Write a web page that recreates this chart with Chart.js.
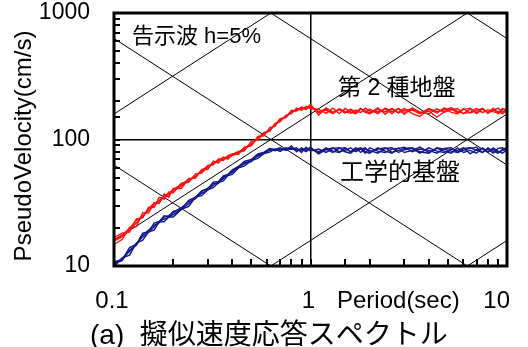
<!DOCTYPE html>
<html>
<head>
<meta charset="utf-8">
<script src="https://cdn.jsdelivr.net/npm/chart.js@4.4.1/dist/chart.umd.min.js"></script>
<style>
  html, body { margin: 0; padding: 0; background: #fff; }
</style>
</head>
<body>
<canvas id="c" width="528" height="347"></canvas>
<script>
// Natural periods (sec)
const periods = [
  0.10,0.11,0.12,0.13,0.14,0.15,0.16,0.17,0.18,0.19,
  0.20,0.22,0.24,0.26,0.28,0.30,0.32,0.34,0.36,0.38,
  0.40,0.43,0.46,0.50,0.54,0.58,0.62,0.66,0.70,0.75,
  0.80,0.85,0.90,0.95,1.00,1.1,1.2,1.3,1.4,1.5,
  1.6,1.7,1.8,1.9,2.0,2.2,2.4,2.6,2.8,3.0,
  3.3,3.6,4.0,4.4,4.8,5.2,5.6,6.0,6.5,7.0,
  7.5,8.0,8.5,9.0,9.5,10.0
];

// Pseudo velocity (cm/s), type-2 ground surface
const soil1 = [
  15.8,17.0,19.2,22.0,25.0,27.5,30.0,33.0,35.0,36.5,
  39.0,43.0,47.0,51.5,56.0,60.0,65.0,67.5,70.0,72.0,
  74.5,78.0,83.0,93.0,102,110,120,130,142,152,
  165,172,175,178,182,166,174,163,172,162,
  174,165,176,164,160,173,165,176,162,170,
  175,162,168,150,166,174,163,175,162,170,
  176,161,172,166,160,170
];
const soil2 = [
  16.8,18.2,18.5,23.6,24.0,29.2,29.0,35.0,33.8,38.5,
  37.8,45.2,45.8,53.5,54.2,62.5,63.0,70.0,68.2,74.5,
  77.0,76.0,87.0,89.0,106,107,124,127,146,149,
  170,168,181,172,190,156,178,164,174,163,
  172,161,176,165,174,160,177,166,175,158,
  178,165,160,175,164,172,176,160,174,163,
  176,162,170,177,164,173
];
const soil3 = [
  14.8,16.2,20.2,20.5,26.4,26.2,31.8,31.2,37.0,35.0,
  41.0,41.0,49.2,49.5,58.0,58.0,67.5,65.0,72.5,70.0,
  76.0,80.5,81.0,97.0,99,114,116,134,138,156,
  160,177,170,183,175,174,161,177,160,176,
  165,160,174,168,162,178,158,174,163,176,
  160,152,174,162,178,164,160,173,177,160,
  175,164,177,160,172,175
];
const soil4 = [
  16.2,17.6,19.8,23.2,24.4,28.6,31.2,32.2,36.2,37.4,
  40.2,44.2,48.4,50.6,57.4,61.4,64.0,69.2,71.6,73.0,
  76.4,79.2,85.0,91.0,104,112,118,132,144,150,
  167,170,178,175,186,163,171,160,175,166,
  161,171,163,177,168,165,174,160,176,164,
  171,160,176,166,172,178,167,161,164,176,
  163,172,166,162,176,165
];

// Pseudo velocity (cm/s), engineering bedrock
const base1 = [
  10.2,11.5,13.0,15.0,17.0,18.5,20.3,22.5,23.5,24.3,
  25.5,28.0,31.0,35.0,37.5,40.0,43.5,46.0,49.0,52.5,
  55.0,60.0,64.0,68.5,74.0,78.5,82.0,83.0,82.5,84.0,
  86,81,84,80,85,78,86,81,79,85,
  80,86,79,84,82,78,85,86,79,83,
  85,78,86,81,79,84,82,86,77,83,
  85,79,86,81,78,83
];
const base2 = [
  10.8,11.2,14.0,14.8,18.2,18.6,21.8,22.5,25.0,24.5,
  27.0,28.0,33.0,35.0,39.5,40.5,46.0,46.5,51.5,53.0,
  57.5,61.0,67.0,69.5,77.0,79.5,85.0,83.5,86.0,82.0,
  89,80,86,82,87,77,83,86,80,82,
  86,80,84,78,86,81,79,84,85,87,
  80,84,82,78,85,86,79,82,85,87,
  79,84,78,85,86,80
];
const base3 = [
  9.8,11.6,12.2,15.2,16.0,18.6,19.2,22.4,22.4,24.4,
  24.4,28.0,29.6,35.0,36.0,40.0,41.6,45.6,47.0,51.8,
  53.0,59.6,61.5,68.0,71.0,77.5,79.5,84.0,80.5,86.0,
  84,86,79,87,81,84,79,85,86,80,
  78,84,86,80,78,86,81,78,86,79,
  82,87,79,85,81,78,86,79,82,78,
  86,80,84,79,82,85
];
const base4 = [
  10.5,11.0,13.4,14.6,17.6,19.2,21.0,22.0,24.4,25.0,
  26.4,28.9,32.2,34.0,38.8,41.2,45.0,45.0,50.5,52.8,
  56.5,61.5,65.5,67.0,76.0,77.5,83.5,81.5,84.5,83.0,
  84,83,81,85,84,80,84,79,85,86,
  80,82,84,86,79,84,86,79,82,85,
  86,80,78,86,84,81,79,85,86,82,
  79,86,81,78,84,86
];

// Tripartite guide lines: constant acceleration (cm/s^2) and displacement (cm)
const accelLevels = [10, 100, 1000, 10000];
const dispLevels = [1, 10, 100, 1000];

// Axis ranges and labels
const xRange = [0.1, 10];
const yRange = [10, 1000];
const yTickValues = [10, 100, 1000];
const xTickValues = [0.1, 1, 10];
const xTickLabels = ['0.1', '1', '10'];

const LATIN = '"Liberation Sans", Arial, sans-serif';
const JP = '"Liberation Sans", "Noto Sans CJK JP", sans-serif';

const toPoints = arr => periods.map((t, i) => ({ x: t, y: arr[i] }));
const TWO_PI = 2 * Math.PI;

const guideSets = [];
accelLevels.forEach(a => guideSets.push({
  data: [{ x: xRange[0], y: a * xRange[0] / TWO_PI }, { x: xRange[1], y: a * xRange[1] / TWO_PI }],
  borderColor: '#000', borderWidth: 1, pointRadius: 0, order: 10
}));
dispLevels.forEach(d => guideSets.push({
  data: [{ x: xRange[0], y: TWO_PI * d / xRange[0] }, { x: xRange[1], y: TWO_PI * d / xRange[1] }],
  borderColor: '#000', borderWidth: 1, pointRadius: 0, order: 10
}));

const RED = '#ff1010';
const BLUE = '#12188e';
const curve = (arr, color) => ({
  data: toPoints(arr), borderColor: color, borderWidth: 1.4,
  pointRadius: 0, tension: 0, order: 1
});

const decor = {
  id: 'decor',
  afterDraw(chart) {
    const { ctx, chartArea: a, scales: { x, y } } = chart;
    ctx.save();
    // inward tick marks on the bottom and left axes
    ctx.strokeStyle = '#000';
    ctx.lineWidth = 2;
    ctx.beginPath();
    x.ticks.forEach(t => {
      const px = Math.round(x.getPixelForValue(t.value));
      ctx.moveTo(px, a.bottom); ctx.lineTo(px, a.bottom - 7);
    });
    y.ticks.forEach(t => {
      const py = Math.round(y.getPixelForValue(t.value));
      ctx.moveTo(a.left, py); ctx.lineTo(a.left + 6, py);
    });
    ctx.stroke();
    // plot frame
    ctx.lineWidth = 3;
    ctx.strokeRect(a.left, a.top, a.right - a.left, a.bottom - a.top);

    ctx.fillStyle = '#000';
    ctx.textBaseline = 'middle';
    // period labels
    ctx.font = '24px ' + LATIN;
    const xLabelY = 301;
    xTickValues.forEach((v, i) => {
      const px = x.getPixelForValue(v);
      if (i === xTickValues.length - 1) {
        ctx.textAlign = 'right';
        ctx.fillText(xTickLabels[i], px + 3, xLabelY);
      } else {
        ctx.textAlign = 'center';
        ctx.fillText(xTickLabels[i], px - 2, xLabelY);
      }
    });
    ctx.textAlign = 'left';
    ctx.fillText('Period(sec)', 337, xLabelY);

    // vertical axis title
    ctx.save();
    ctx.translate(24, 146);
    ctx.rotate(-Math.PI / 2);
    ctx.textAlign = 'center';
    ctx.font = '24px ' + LATIN;
    ctx.fillText('PseudoVelocity(cm/s)', 0, 0);
    ctx.restore();

    // annotations
    ctx.textAlign = 'left';
    ctx.font = '22px ' + JP;
    ctx.fillText('告示波 h=5%', 132, 37);
    ctx.font = '23px ' + JP;
    ctx.fillText('第 2 種地盤', 338, 89);
    ctx.font = '24px ' + JP;
    ctx.fillText('工学的基盤', 340, 173);

    // caption
    ctx.font = '28px ' + JP;
    ctx.fillText('(a)  擬似速度応答スペクトル', 90, 336);
    ctx.restore();
  }
};

new Chart(document.getElementById('c'), {
  type: 'line',
  data: {
    datasets: [
      ...guideSets,
      curve(soil1, RED), curve(soil2, RED), curve(soil3, RED), curve(soil4, RED),
      curve(base1, BLUE), curve(base2, BLUE), curve(base3, BLUE), curve(base4, BLUE)
    ]
  },
  options: {
    responsive: false,
    animation: false,
    layout: { padding: { top: 13, right: 21, left: 0, bottom: 0 } },
    plugins: { legend: { display: false }, tooltip: { enabled: false }, title: { display: false } },
    scales: {
      x: {
        type: 'logarithmic', min: xRange[0], max: xRange[1],
        afterFit: s => { s.height = 81; s.paddingLeft = 0; s.paddingRight = 0; },
        border: { display: false },
        grid: {
          drawTicks: false,
          lineWidth: 1.5,
          color: c => (c.tick && Math.abs(c.tick.value - 1) < 1e-9) ? '#000' : 'rgba(0,0,0,0)'
        },
        ticks: { display: false, autoSkip: false }
      },
      y: {
        type: 'logarithmic', min: yRange[0], max: yRange[1],
        afterFit: s => { s.width = 114; s.paddingTop = 0; s.paddingBottom = 0; },
        border: { display: false },
        grid: {
          drawTicks: false,
          lineWidth: 1.5,
          color: c => (c.tick && Math.abs(c.tick.value - 100) < 1e-6) ? '#000' : 'rgba(0,0,0,0)'
        },
        ticks: {
          autoSkip: false, padding: 24, color: '#000',
          font: { family: LATIN, size: 23 },
          callback: v => yTickValues.some(t => Math.abs(t - v) < 1e-6) ? String(v) : ''
        }
      }
    }
  },
  plugins: [decor]
});
</script>
</body>
</html>
